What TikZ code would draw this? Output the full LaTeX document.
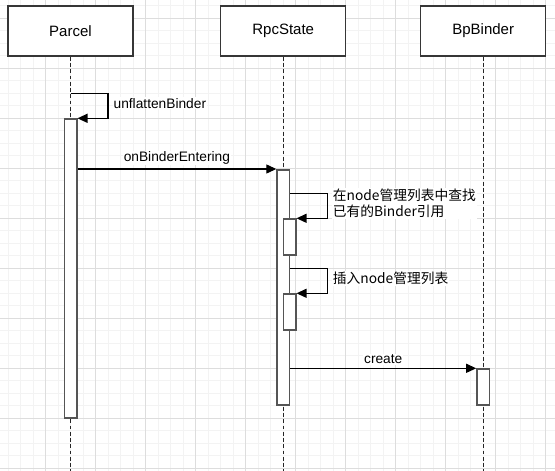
\documentclass[tikz,border=0pt]{standalone}
\usepackage{fontspec}
\setmainfont{Liberation Sans}
\newfontfamily\cjk{Noto Sans CJK SC}
\usepackage{xcolor}
\usetikzlibrary{arrows.meta}
\definecolor{majorgrid}{HTML}{DDDDDD}
\definecolor{minorgrid}{HTML}{F3F3F3}
\definecolor{boxline}{HTML}{363636}
\definecolor{barline}{HTML}{555555}

\begin{document}
\begin{tikzpicture}[x=1pt,y=-1pt,>={Triangle[length=10pt,width=9pt]},
                    head node/.style={rectangle,draw=boxline,line width=1.5pt,fill=white,
                      minimum width=125pt,minimum height=50pt,inner sep=0pt,font=\fontsize{15}{18}\selectfont},
                    act bar/.style={rectangle,draw=barline,line width=1.5pt,fill=white,
                      minimum width=12.5pt,inner sep=0pt,anchor=north},
                    life line/.style={draw=black!85,line width=1.25pt,dash pattern=on 3.75pt off 2.5pt},
                    msg/.style={->,line width=1.25pt},
                    msg label/.style={fill=white,inner sep=1pt,font=\fontsize{13.75}{16.7}\selectfont}]

  \useasboundingbox[fill=white] (0,0) rectangle (555,471);

  % grid
  \foreach \gx in {8,20.5,...,555} \draw[minorgrid,line width=1pt] (\gx,0) -- (\gx,471);
  \foreach \gy in {5.8,18.3,...,471} \draw[minorgrid,line width=1pt] (0,\gy) -- (555,\gy);
  \foreach \gx in {45.5,95.5,...,555} \draw[majorgrid,line width=1pt] (\gx,0) -- (\gx,471);
  \foreach \gy in {18.3,68.3,...,471} \draw[majorgrid,line width=1pt] (0,\gy) -- (555,\gy);

  % heads
  \node[head node] (parcel) at (70.5,31) {Parcel};
  \node[head node] (rpc) at (283.2,31) {RpcState};
  \node[head node] (bp) at (483.2,31) {BpBinder};

  % life lines
  \draw[life line] (parcel.south) -- (parcel.south |- 0,471);
  \draw[life line] (rpc.south) -- (rpc.south |- 0,471);
  \draw[life line] (bp.south) -- (bp.south |- 0,471);

  % activations
  \node[act bar,minimum height=299pt] (parcelbar) at (70.5,118.3) {};
  \node[act bar,minimum height=235pt] (rpcbar) at (283.3,169) {};
  \node[act bar,minimum height=36pt] (findbar) at (289.55,218.3) {};
  \node[act bar,minimum height=36pt] (insertbar) at (289.55,293.3) {};
  \node[act bar,minimum height=36pt] (bpbar) at (483.2,368.3) {};

  \coordinate (unflatten) at (70.5,93.3);
  \coordinate (find) at (rpcbar.east |- 0,193.3);
  \coordinate (insert) at (rpcbar.east |- 0,268.3);

  % messages
  \draw[msg] (unflatten) -- ++(37.5,0) |- node[pos=.25,right=4pt,yshift=2.5pt,msg label] {unflattenBinder} (parcelbar.north east);
  \draw[msg] (parcelbar.east |- rpcbar.north) -- node[above=3pt,msg label] {onBinderEntering} (rpcbar.north west);
  \draw[msg] (find) -- ++(37,0) |- node[pos=.25,right=4pt,yshift=2.5pt,msg label,align=left,font=\cjk\fontsize{13.75}{16.7}\selectfont] {在node管理列表中查找\\已有的Binder引用} (findbar.north east);
  \draw[msg] (insert) -- ++(37,0) |- node[pos=.25,right=4pt,yshift=2.5pt,msg label,font=\cjk\fontsize{13.75}{16.7}\selectfont] {插入node管理列表} (insertbar.north east);
  \draw[msg] (rpcbar.east |- bpbar.north) -- node[above=3pt,msg label] {create} (bpbar.north west);
\end{tikzpicture}
\end{document}
